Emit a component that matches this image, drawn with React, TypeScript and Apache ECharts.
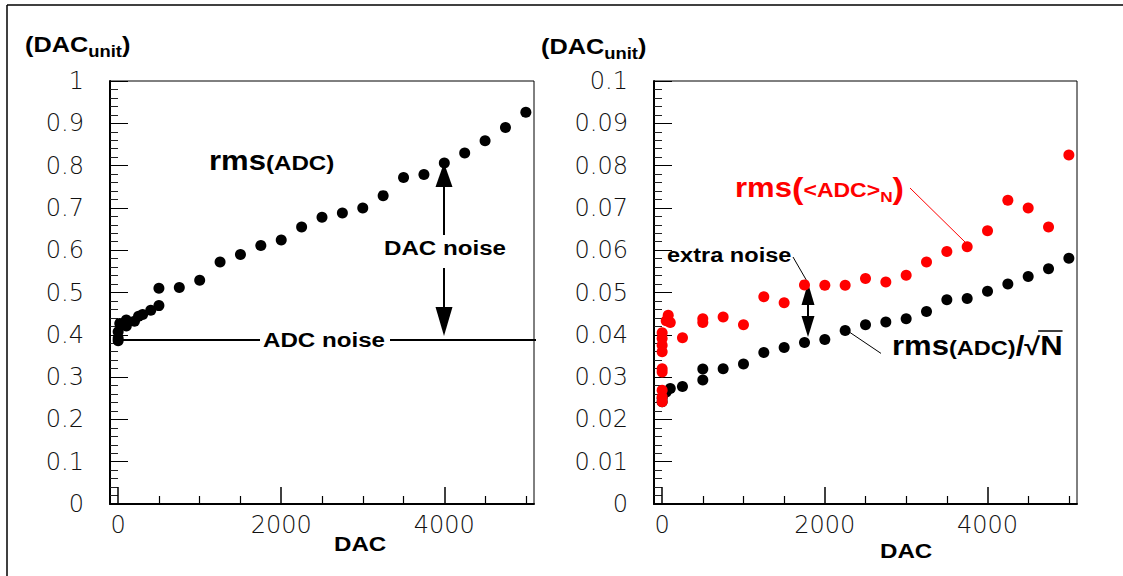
import React, { useEffect, useRef } from "react";
import * as echarts from "echarts";

// ---------- data ----------
// left panel: rms(ADC) vs DAC
const leftDac = [0, 0, 0, 20, 100, 100, 200, 250, 300, 400, 500, 500, 750, 1000, 1250, 1500, 1750, 2000, 2250, 2500, 2750, 3000, 3250, 3500, 3750, 4000, 4250, 4500, 4750, 5000];
const leftRms = [0.386, 0.392, 0.407, 0.427, 0.421, 0.435, 0.432, 0.444, 0.448, 0.458, 0.469, 0.51, 0.512, 0.529, 0.572, 0.59, 0.611, 0.624, 0.655, 0.678, 0.688, 0.7, 0.729, 0.772, 0.779, 0.806, 0.83, 0.859, 0.89, 0.926];

// right panel: rms(ADC)/sqrt(N) (black)
const blackDac = [0, 0, 20, 50, 100, 250, 500, 500, 750, 1000, 1250, 1500, 1750, 2000, 2250, 2500, 2750, 3000, 3250, 3500, 3750, 4000, 4250, 4500, 4750, 5000];
const blackRms = [0.0242, 0.025, 0.0262, 0.0265, 0.0273, 0.0278, 0.0293, 0.0319, 0.032, 0.0331, 0.0358, 0.037, 0.0382, 0.0389, 0.041, 0.0424, 0.043, 0.0438, 0.0455, 0.0483, 0.0486, 0.0503, 0.052, 0.0538, 0.0556, 0.0581];

// right panel: rms(<ADC>_N) (red)
const redDac = [0, 0, 0, 0, 0, 0, 0, 0, 0, 50, 75, 100, 250, 500, 500, 750, 1000, 1250, 1500, 1750, 2000, 2250, 2500, 2750, 3000, 3250, 3500, 3750, 4000, 4250, 4500, 4750, 5000];
const redRms = [0.0242, 0.0253, 0.0269, 0.0312, 0.032, 0.036, 0.0375, 0.0391, 0.0405, 0.0433, 0.0446, 0.0429, 0.0393, 0.0438, 0.0429, 0.0442, 0.0424, 0.049, 0.0476, 0.0518, 0.0517, 0.0517, 0.0533, 0.0525, 0.0541, 0.0572, 0.0597, 0.0608, 0.0646, 0.0718, 0.07, 0.0655, 0.0825];

const xMajorTicks = [0, 2000, 4000];
const xMinorTicks = [500, 1000, 1500, 2500, 3000, 3500, 4500, 5000];
const xLabels = [0, 2000, 4000];

const zip = (a: number[], b: number[]) => a.map((v, i) => [v, b[i]]);

// ---------- text helpers ----------
const FONT = '"Liberation Sans", Arial, Helvetica, sans-serif';
const SX = 1.15;
let _ctx: CanvasRenderingContext2D | null = null;
function tw(t: string, fs: number) {
  if (!_ctx) _ctx = document.createElement("canvas").getContext("2d");
  _ctx!.font = `bold ${fs}px ${FONT}`;
  return _ctx!.measureText(t).width;
}
type Part = { t: string; fs: number; dy?: number };
function runs(x0: number, base: number, parts: Part[], color: string) {
  const els: any[] = [];
  let x = x0;
  for (const p of parts) {
    els.push({
      type: "text",
      x,
      y: base + (p.dy || 0) - 0.35 * p.fs,
      scaleX: SX,
      silent: true,
      style: {
        text: p.t,
        font: `bold ${p.fs}px ${FONT}`,
        fill: color,
        align: "left",
        verticalAlign: "middle",
      },
    });
    x += tw(p.t, p.fs) * SX;
  }
  return { els, end: x };
}

const line = (x1: number, y1: number, x2: number, y2: number, w: number, c = "#000") => ({
  type: "line",
  silent: true,
  shape: { x1, y1, x2, y2 },
  style: { stroke: c, lineWidth: w },
});
const tri = (pts: number[][]) => ({
  type: "polygon",
  silent: true,
  shape: { points: pts },
  style: { fill: "#000" },
});

export default function App() {
  const ref = useRef<HTMLDivElement>(null);
  useEffect(() => {
    if (!ref.current) return;
    const chart = echarts.init(ref.current, undefined, { renderer: "svg" });

    const tickLabel = {
      fontFamily: '"DejaVu Sans", sans-serif',
      fontWeight: 200 as any,
      fontSize: 24,
      color: "#111",
      formatter: (v: number) => String(Math.round(v * 1000) / 1000),
    };

    const grids = [
      { left: 110, top: 81, width: 424, height: 423 },
      { left: 654, top: 81, width: 423, height: 423 },
    ];

    const mkX = (gi: number) => [
      {
        gridIndex: gi,
        type: "value",
        min: -100,
        max: 5100,
        position: "bottom",
        axisLine: { onZero: false, lineStyle: { color: "#000", width: 2 } },
        axisTick: { inside: true, length: 17, customValues: xMajorTicks, lineStyle: { color: "#000", width: 1.5 } },
        axisLabel: { customValues: xLabels, margin: 9, ...tickLabel },
        splitLine: { show: false },
      },
      {
        gridIndex: gi,
        type: "value",
        min: -100,
        max: 5100,
        position: "top",
        offset: -423,
        axisLine: { show: false, onZero: false },
        axisTick: { inside: false, length: 8, customValues: xMinorTicks, lineStyle: { color: "#000", width: 1.2 } },
        axisLabel: { show: false },
        splitLine: { show: false },
      },
    ];

    const mkY = (gi: number, max: number, interval: number) => ({
      gridIndex: gi,
      type: "value",
      min: 0,
      max,
      interval,
      axisLine: { onZero: false, lineStyle: { color: "#000", width: 2 } },
      axisTick: { inside: true, length: 18, lineStyle: { color: "#000", width: 1 } },
      minorTick: { show: true, splitNumber: 5, length: 8, lineStyle: { color: "#222", width: 1 } },
      axisLabel: { margin: 26, ...tickLabel },
      splitLine: { show: false },
    });

    // annotations
    const g: any[] = [];
    // outer frame
    g.push(line(7, 5, 1123, 5, 1.5));
    g.push(line(7, 5, 7, 576, 1.5));

    // titles
    const t1 = runs(25, 52, [{ t: "(DAC", fs: 22 }, { t: "unit", fs: 16, dy: 5 }, { t: ")", fs: 22 }], "#000");
    const t2 = runs(541, 54, [{ t: "(DAC", fs: 22 }, { t: "unit", fs: 16, dy: 5 }, { t: ")", fs: 22 }], "#000");
    g.push(...t1.els, ...t2.els);

    // left annotations
    g.push(...runs(209, 170, [{ t: "rms", fs: 27 }, { t: "(ADC)", fs: 21 }], "#000").els);
    g.push(...runs(384, 255, [{ t: "DAC noise", fs: 21 }], "#000").els);
    g.push(...runs(263, 347, [{ t: "ADC noise", fs: 21 }], "#000").els);
    g.push(line(118, 340, 260, 340, 2));
    g.push(line(390, 340, 536, 340, 2));
    g.push(tri([[444, 162.7], [435.5, 187], [452.5, 187]]));
    g.push(line(444, 186, 444, 235, 2));
    g.push(line(444, 268, 444, 308, 2));
    g.push(tri([[435.5, 307], [452.5, 307], [444, 336]]));

    // right annotations
    g.push(...runs(735, 197, [{ t: "rms", fs: 27 }, { t: "(", fs: 30, dy: 2 }, { t: "<ADC>", fs: 20 }, { t: "N", fs: 15, dy: 5 }, { t: ")", fs: 30, dy: 2 }], "#ff0000").els);
    g.push(line(910, 188, 965, 242, 1, "#ff0000"));
    g.push(...runs(667, 262, [{ t: "extra noise", fs: 20.5 }], "#000").els);
    g.push(line(793, 257, 808, 283, 1));
    g.push(tri([[808, 283], [801.5, 305], [814.5, 305]]));
    g.push(line(808, 304, 808, 317, 2));
    g.push(tri([[801.5, 316], [814.5, 316], [808, 337]]));
    const r3 = runs(892, 355, [{ t: "rms", fs: 27 }, { t: "(ADC)", fs: 20.5 }, { t: "/", fs: 27 }, { t: "\u221A", fs: 25 }, { t: "N", fs: 27 }], "#000");
    g.push(...r3.els);
    g.push(line(r3.end - tw("N", 27) * SX - 2, 331, r3.end, 331, 1.5));
    g.push(line(850, 332.5, 881, 353.4, 1));

    // axis names
    g.push(...runs(334, 551, [{ t: "DAC", fs: 21 }], "#000").els);
    g.push(...runs(880, 558, [{ t: "DAC", fs: 21 }], "#000").els);

    const dot = { color: "#000", opacity: 1 };
    chart.setOption({
      animation: false,
      backgroundColor: "#fff",
      grid: grids.map((gr) => ({ ...gr, show: true, borderColor: "#000", borderWidth: 1, backgroundColor: "transparent", containLabel: false })),
      xAxis: [...mkX(0), ...mkX(1)],
      yAxis: [mkY(0, 1, 0.1), mkY(1, 0.1, 0.01)],
      series: [
        {
          type: "scatter",
          xAxisIndex: 0,
          yAxisIndex: 0,
          data: zip(leftDac, leftRms),
          symbol: "circle",
          symbolSize: 11,
          itemStyle: dot,
          silent: true,
        },
        {
          type: "scatter",
          xAxisIndex: 2,
          yAxisIndex: 1,
          data: zip(blackDac, blackRms),
          symbol: "circle",
          symbolSize: 11,
          itemStyle: dot,
          silent: true,
        },
        {
          type: "scatter",
          xAxisIndex: 2,
          yAxisIndex: 1,
          data: zip(redDac, redRms),
          symbol: "circle",
          symbolSize: 11,
          itemStyle: { color: "#ff0000", opacity: 1 },
          silent: true,
        },
      ],
      graphic: g,
    });
    return () => chart.dispose();
  }, []);
  return <div ref={ref} style={{ position: "fixed", left: 0, top: 0, width: 1123, height: 576, background: "#fff" }} />;
}
